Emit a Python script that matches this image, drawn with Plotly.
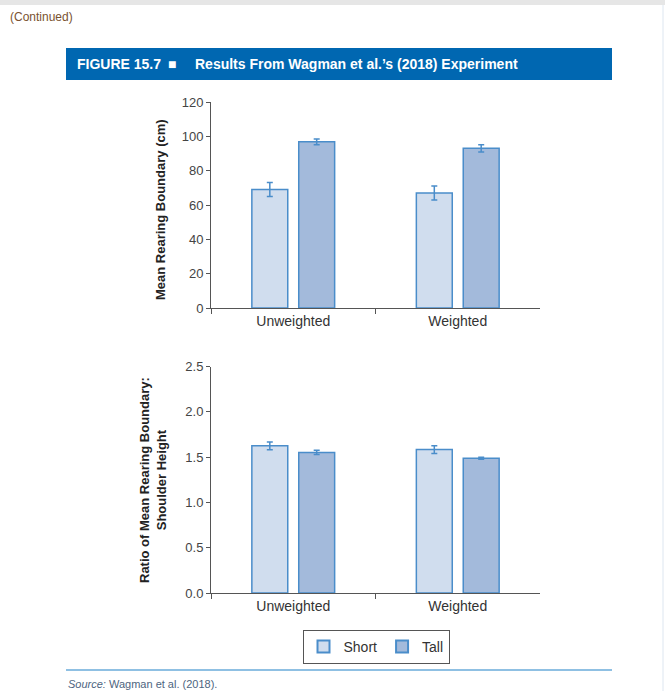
import plotly.graph_objects as go

W, H = 665, 691

categories = ["Unweighted", "Weighted"]
series_names = ["Short", "Tall"]

boundary_short = [69.0, 67.0]
boundary_short_err = [4.1, 4.1]
boundary_tall = [96.8, 93.0]
boundary_tall_err = [1.7, 2.1]

ratio_short = [1.624, 1.583]
ratio_short_err = [0.043, 0.042]
ratio_tall = [1.552, 1.487]
ratio_tall_err = [0.024, 0.011]

top_ticks = [0, 20, 40, 60, 80, 100, 120]
bottom_ticks = [0.0, 0.5, 1.0, 1.5, 2.0, 2.5]

fill_short = "#d0ddee"
fill_tall = "#a3badb"
edge = "#4a8dca"
axis_col = "#555555"
text_col = "#333333"
FONT = "Liberation Sans, Arial, sans-serif"
NARROW = "Liberation Sans Narrow, Liberation Sans, Arial, sans-serif"


def px(x):
    return x / W


def py(y):
    return 1 - y / H


fig = go.Figure()

for vals, errs, name, fill, show, xa, ya in [
    (boundary_short, boundary_short_err, "Short", fill_short, True, "x", "y"),
    (boundary_tall, boundary_tall_err, "Tall", fill_tall, True, "x", "y"),
    (ratio_short, ratio_short_err, "Short", fill_short, False, "x2", "y2"),
    (ratio_tall, ratio_tall_err, "Tall", fill_tall, False, "x2", "y2"),
]:
    fig.add_trace(go.Bar(
        x=categories, y=vals, name=name, showlegend=show, legendgroup=name,
        marker=dict(color=fill, line=dict(color=edge, width=1.5)),
        error_y=dict(type="data", array=errs, visible=True, color=edge,
                     thickness=1.5, width=3),
        xaxis=xa, yaxis=ya,
    ))

xcommon = dict(
    type="category", tickson="boundaries", ticks="outside", ticklen=5,
    tickcolor=axis_col, showline=True, linecolor=axis_col, linewidth=1,
    showgrid=False, zeroline=False, tickfont=dict(family=FONT, size=14, color=text_col),
    range=[-0.5, 1.5], fixedrange=True, automargin=False,
)
ycommon = dict(
    ticks="outside", ticklen=4, tickcolor=axis_col, showline=True,
    linecolor=axis_col, linewidth=1, showgrid=False, zeroline=False,
    tickfont=dict(family=FONT, size=13, color="#444444"), fixedrange=True, automargin=False,
)

fig.update_layout(
    width=W, height=H, margin=dict(l=0, r=0, t=0, b=0, autoexpand=False),
    paper_bgcolor="white", plot_bgcolor="white",
    barmode="group", bargap=0.43, bargroupgap=0.234,
    xaxis=dict(domain=[px(211), px(540)], anchor="y", **xcommon),
    yaxis=dict(domain=[py(308), py(102)], anchor="x", range=[0, 120],
               tickvals=top_ticks, **ycommon),
    xaxis2=dict(domain=[px(211), px(540)], anchor="y2", **xcommon),
    yaxis2=dict(domain=[py(593), py(366.5)], anchor="x2", range=[0, 2.5],
                tickvals=bottom_ticks, tickformat=".1f", **ycommon),
    legend=dict(orientation="h", x=px(376), xanchor="center", y=py(630), yanchor="top",
                bordercolor="#555555", borderwidth=1, bgcolor="white",
                font=dict(family=FONT, size=14, color=text_col),
                itemsizing="constant", traceorder="normal"),
    showlegend=True,
)

shapes = [
    dict(type="rect", xref="paper", yref="paper", x0=0, x1=1, y0=py(5), y1=1,
         fillcolor="#e6e6e6", line=dict(width=0), layer="below"),
    dict(type="rect", xref="paper", yref="paper", x0=px(66), x1=px(612), y0=py(80), y1=py(48),
         fillcolor="#0067b1", line=dict(width=0), layer="below"),
    dict(type="line", xref="paper", yref="paper", x0=px(66), x1=px(612), y0=py(670), y1=py(670),
         line=dict(color="#8fc0e3", width=2)),
    dict(type="line", xref="paper", yref="paper", x0=px(663), x1=px(663), y0=0, y1=py(5),
         line=dict(color="#dde6f0", width=1)),
]
fig.update_layout(shapes=shapes)

ann = [
    dict(text="(Continued)", x=px(8), y=py(17), xanchor="left", yanchor="middle",
         font=dict(family=NARROW, size=12, color="#7a5230")),
    dict(text="<b>FIGURE 15.7</b>", x=px(75), y=py(64), xanchor="left", yanchor="middle",
         font=dict(family=NARROW, size=14, color="white")),
    dict(text="■", x=px(172), y=py(64), xanchor="center", yanchor="middle",
         font=dict(family=FONT, size=14, color="white")),
    dict(text="<b>Results From Wagman et al.’s (2018) Experiment</b>", x=px(193), y=py(64),
         xanchor="left", yanchor="middle",
         font=dict(family=NARROW, size=14, color="white")),
    dict(text="<b>Mean Rearing Boundary (cm)</b>", x=px(160), y=py(210), textangle=-90,
         xanchor="center", yanchor="middle",
         font=dict(family=FONT, size=13, color="#222222")),
    dict(text="<b>Ratio of Mean Rearing Boundary:<br>Shoulder Height</b>", x=px(153), y=py(480),
         textangle=-90, xanchor="center", yanchor="middle",
         font=dict(family=FONT, size=13, color="#222222")),
    dict(text="<i>Source:</i> Wagman et al. (2018).", x=px(66), y=py(684), xanchor="left",
         yanchor="middle", font=dict(family=NARROW, size=11, color="#4e6580")),
]
for a in ann:
    a.update(xref="paper", yref="paper", showarrow=False)
fig.update_layout(annotations=ann)

post = (
    "document.documentElement.style.margin='0';"
    "document.body.style.margin='0';"
    "document.body.style.overflow='hidden';"
)

fig.write_html("out.html", post_script=post, config={"displayModeBar": False})
